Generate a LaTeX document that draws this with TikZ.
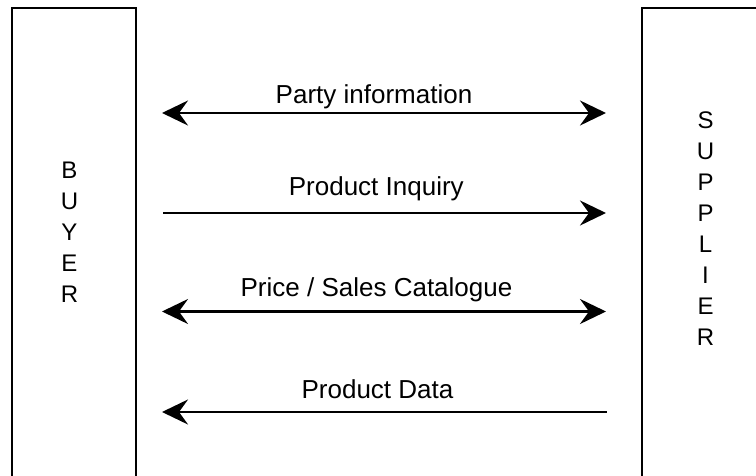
\documentclass[tikz,border=0pt]{standalone}
\usepackage{fontspec}
\setmainfont{Liberation Sans}
\usetikzlibrary{arrows.meta}
\begin{document}
\begin{tikzpicture}[x=1pt,y=-1pt,
  party/.style={draw, line width=2.5pt, rectangle, inner sep=0pt, outer sep=0pt},
  vletters/.style={font=\fontsize{24}{31}\selectfont, align=center, inner sep=0pt},
  msg/.style={font=\fontsize{26}{30}\selectfont, inner sep=0pt, anchor=base},
  tip/.tip={Stealth[length=26pt, width=25pt, inset=9pt]},
  flow/.style={line width=2.5pt, arrows={-tip}},
  flowboth/.style={line width=2.5pt, arrows={tip-tip}},
  flowback/.style={line width=2.5pt, arrows={tip-}}]
\useasboundingbox (0,0) rectangle (756,476);
\clip (0,0) rectangle (756,476);
% parties (boxes run past the bottom and right edges)
\node[party, minimum width=124pt, minimum height=540pt] (buyer) at (74,278) {};
\node[party, minimum width=140pt, minimum height=540pt] (supplier) at (712,278) {};
\node[vletters] (buyertext) at (69.5,232) {B\\U\\Y\\E\\R};
\node[vletters] (suppliertext) at (705.5,229) {S\\U\\P\\P\\L\\I\\E\\R};
% connector end points
\coordinate (l1) at (162,113);   \coordinate (r1) at (606,113);
\coordinate (l2) at (163,213);   \coordinate (r2) at (606,213);
\coordinate (l3) at (162,311.5); \coordinate (r3) at (606,311.5);
\coordinate (l4) at (162,412);   \coordinate (r4) at (607,412);
% messages
\draw[flowboth] (l1) -- (r1);
\draw[flow] (l2) -- (r2);
\draw[flowboth] (l3) -- (r3);
\draw[flowback] (l4) -- (r4);
% labels
\node[msg] (lab1) at (374,103.3) {Party information};
\node[msg] (lab2) at (376.3,196) {Product Inquiry};
\node[msg] (lab3) at (376.5,296.7) {Price / Sales Catalogue};
\node[msg] (lab4) at (377.5,398.3) {Product Data};
\end{tikzpicture}
\end{document}
